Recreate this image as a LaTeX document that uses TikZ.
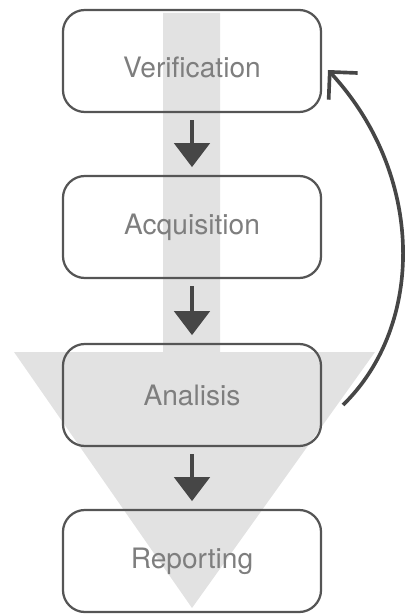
\documentclass[tikz,border=0pt]{standalone}
\usepackage{fontspec}
\setmainfont{TeX Gyre Heros}
\usetikzlibrary{arrows.meta}
\usepackage{xcolor}

\definecolor{boxline}{HTML}{555555}
\definecolor{funnelgray}{HTML}{E2E2E2}
\definecolor{labelgray}{HTML}{7E7E7E}
\definecolor{arrowgray}{HTML}{464646}

\begin{document}
\begin{tikzpicture}[x=0.025cm, y=-0.025cm,
    stage/.style={draw=boxline, line width=1.6pt, rounded corners=0.55cm, minimum width=6.45cm, minimum height=2.55cm, text=labelgray, font=\fontsize{20}{24}\selectfont},
    flowarrow/.style={draw=arrowgray, line width=2.8pt, -{Triangle[length=17pt, width=25pt]}, shorten <=5pt, shorten >=5.5pt},
    backarrow/.style={draw=arrowgray, line width=2.6pt, -{Straight Barb[length=14pt, width=28pt, line width=2.6pt]}}]
    \useasboundingbox (0,0) rectangle (414,616);

    % Funnel in the background
    \fill[funnelgray] (163,13) -- (220,13) -- (220,352) -- (375,352) -- (192,608) -- (14,352) -- (163,352) -- cycle;

    % Stages
    \node[stage] (verif) at (192,61) {\raisebox{-0.15cm}[\height][\depth]{Verification}};
    \node[stage] (acq) at (192,227) {Acquisition};
    \node[stage] (anal) at (192,395) {Analisis};
    \node[stage] (report) at (192,561) {Reporting};

    % Flow
    \draw[flowarrow] (verif) -- (acq);
    \draw[flowarrow] (acq) -- (anal);
    \draw[flowarrow] (anal) -- (report);

    % Back to verification
    \coordinate (backstart) at (343,405);
    \coordinate (backend) at (328,70);
    \draw[backarrow] (backstart) .. controls (425,325) and (425,175) .. (backend);
\end{tikzpicture}
\end{document}
